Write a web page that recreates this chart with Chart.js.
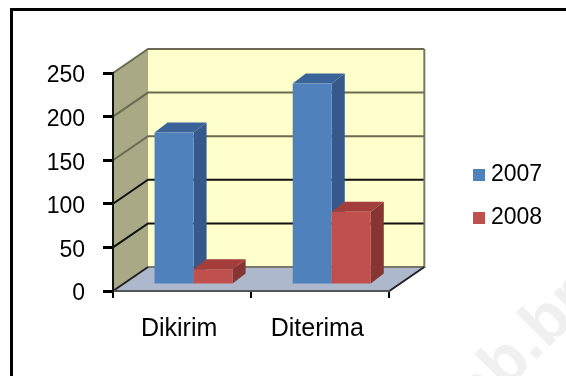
<!DOCTYPE html>
<html lang="id">
<head>
    <meta charset="UTF-8">
    <title>Dikirim dan Diterima</title>
    <script src="https://cdn.jsdelivr.net/npm/chart.js"></script>
    <style>
        html, body { margin: 0; padding: 0; background: #fff; overflow: hidden; }
        #wrap { position: relative; width: 566px; height: 376px; overflow: hidden; filter: blur(0.4px); }
        #frame { position: absolute; left: 10px; top: 8px; width: 600px; height: 400px; border-left: 3px solid #000; border-top: 3px solid #000; }
        canvas { position: absolute; left: 0; top: 0; }
    </style>
</head>
<body>
    <div id="wrap">
        <canvas id="chart" width="566" height="376"></canvas>
        <div id="frame"></div>
    </div>
    <script>
        const categories = ['Dikirim', 'Diterima'];
        const series2007 = [175, 231];
        const series2008 = [18, 84];
        const yTicks = [0, 50, 100, 150, 200, 250];

        // 3D look: depth of the walls and of the bars, in pixels
        const wallDx = 35, wallDy = -24;
        const barDx = 13, barDy = -10;
        const barShiftX = 11.5, barShiftY = -6;
        const faces = [
            { side: '#34598A', top: '#3A6499' },
            { side: '#863533', top: '#A33E3B' }
        ];

        function poly(ctx, pts, fill) {
            ctx.beginPath();
            pts.forEach((p, i) => i ? ctx.lineTo(p[0], p[1]) : ctx.moveTo(p[0], p[1]));
            ctx.closePath();
            ctx.fillStyle = fill;
            ctx.fill();
        }

        const walls = {
            id: 'walls',
            beforeDraw(chart) {
                const ctx = chart.ctx;
                const a = chart.chartArea;
                const y = chart.scales.y;
                const backL = a.left + wallDx, backR = a.right + wallDx;

                // watermark
                ctx.save();
                ctx.translate(479, 417);
                ctx.rotate(-Math.PI / 4);
                ctx.font = 'bold 66px "Liberation Sans"';
                ctx.fillStyle = '#f0f0f0';
                ctx.fillText('ab.br', 0, 0);
                ctx.restore();

                poly(ctx, [[a.left, a.bottom], [backL, a.bottom + wallDy], [backL, a.top + wallDy], [a.left, a.top]], '#A9A985');
                poly(ctx, [[backL, a.bottom + wallDy], [backR, a.bottom + wallDy], [backR, a.top + wallDy], [backL, a.top + wallDy]], '#FFFFCC');
                poly(ctx, [[a.left, a.bottom], [backL, a.bottom + wallDy], [backR, a.bottom + wallDy], [a.right, a.bottom]], '#AEB8CC');

                // grid lines run along the side wall and across the back wall
                ctx.lineWidth = 2;
                yTicks.forEach(v => {
                    if (v === 0) return;
                    const py = y.getPixelForValue(v);
                    ctx.strokeStyle = v >= 150 ? '#6B6B52' : '#111';
                    ctx.beginPath();
                    ctx.moveTo(a.left, py);
                    ctx.lineTo(backL, py + wallDy);
                    ctx.lineTo(backR, py + wallDy);
                    ctx.stroke();
                });
                ctx.strokeStyle = '#77776A';
                ctx.beginPath();
                ctx.moveTo(backL, a.bottom + wallDy);
                ctx.lineTo(backR, a.bottom + wallDy);
                ctx.lineTo(backR, a.top + wallDy);
                ctx.stroke();
                ctx.strokeStyle = '#222';
                ctx.beginPath();
                ctx.moveTo(a.right, a.bottom);
                ctx.lineTo(backR, a.bottom + wallDy);
                ctx.moveTo(a.left, a.bottom);
                ctx.lineTo(backL, a.bottom + wallDy);
                ctx.stroke();
            },
            beforeDatasetsDraw(chart) {
                const ctx = chart.ctx;
                ctx.save();
                ctx.translate(barShiftX, barShiftY);
                chart.data.datasets.forEach((ds, d) => {
                    chart.getDatasetMeta(d).data.forEach(bar => {
                        const l = bar.x - bar.width / 2, r = bar.x + bar.width / 2;
                        poly(ctx, [[r, bar.base], [r + barDx, bar.base + barDy], [r + barDx, bar.y + barDy], [r, bar.y]], faces[d].side);
                        poly(ctx, [[l, bar.y], [l + barDx, bar.y + barDy], [r + barDx, bar.y + barDy], [r, bar.y]], faces[d].top);
                    });
                });
            },
            afterDatasetsDraw(chart) {
                chart.ctx.restore();
            },
            afterLayout(chart) {
                // the legend sits well clear of the plot
                const lg = chart.legend;
                const w = lg.right - lg.left;
                lg.left = 458.5;
                lg.right = lg.left + w;
                lg.top -= 28;
                lg.bottom -= 28;
            }
        };

        new Chart(document.getElementById('chart'), {
            type: 'bar',
            plugins: [walls],
            data: {
                labels: categories,
                datasets: [
                    { label: '2007', data: series2007, backgroundColor: '#4F81BD', categoryPercentage: 0.565, barPercentage: 1 },
                    { label: '2008', data: series2008, backgroundColor: '#C0504D', categoryPercentage: 0.565, barPercentage: 1 }
                ]
            },
            options: {
                responsive: false,
                animation: false,
                layout: { padding: { top: 73, right: 83, left: 0, bottom: 0 } },
                plugins: {
                    tooltip: { enabled: false },
                    legend: {
                        position: 'right',
                        labels: {
                            usePointStyle: true,
                            pointStyle: 'rect',
                            boxWidth: 1,
                            boxHeight: 12,
                            padding: 20,
                            color: '#000',
                            font: { family: '"Liberation Sans"', size: 23 }
                        }
                    }
                },
                scales: {
                    x: {
                        afterFit(s) { s.height = 85; },
                        grid: { drawOnChartArea: false, color: '#000', lineWidth: 2, tickLength: 7, tickColor: '#000' },
                        border: { color: '#555', width: 2 },
                        ticks: { color: '#000', padding: 16, maxRotation: 0, labelOffset: -3, font: { family: '"Liberation Sans"', size: 25 } }
                    },
                    y: {
                        min: 0,
                        max: 250,
                        afterFit(s) { s.width = 113; },
                        afterBuildTicks(s) { s.ticks = yTicks.map(v => ({ value: v })); },
                        grid: { drawOnChartArea: false, lineWidth: 3, tickLength: 10, tickColor: '#000' },
                        border: { color: '#111', width: 2 },
                        ticks: { color: '#000', padding: 18, labelOffset: 3, font: { family: '"Liberation Sans"', size: 23 } }
                    }
                }
            }
        });
    </script>
</body>
</html>
